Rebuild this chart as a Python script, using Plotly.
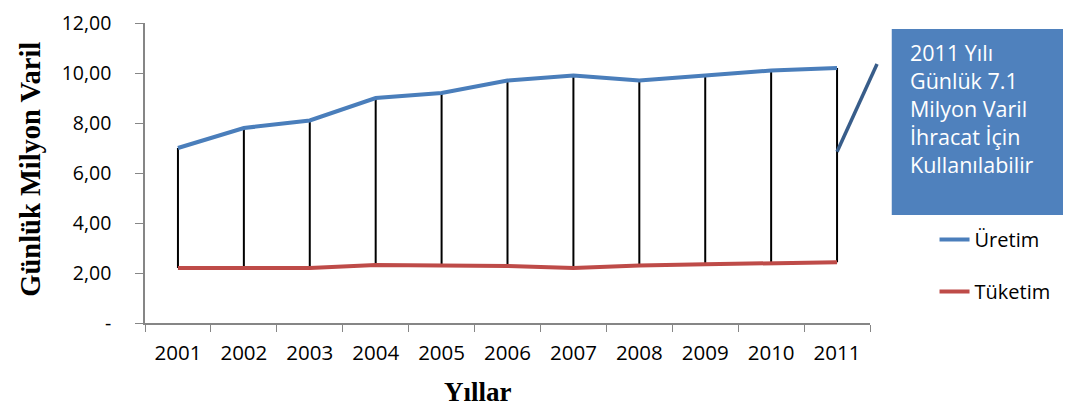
import plotly.graph_objects as go

years = ["2001", "2002", "2003", "2004", "2005", "2006", "2007", "2008", "2009", "2010", "2011"]
uretim = [7.0, 7.8, 8.1, 9.0, 9.2, 9.7, 9.9, 9.7, 9.9, 10.1, 10.2]
tuketim = [2.2, 2.2, 2.2, 2.32, 2.32, 2.28, 2.2, 2.3, 2.35, 2.4, 2.43]
y_ticks = [0, 2, 4, 6, 8, 10, 12]
y_ticktext = ["-", "2,00", "4,00", "6,00", "8,00", "10,00", "12,00"]
callout = "2011 Yılı<br>Günlük 7.1<br>Milyon Varil<br>İhracat İçin<br>Kullanılabilir"

label_font = "Open Sans, sans-serif"
title_font = "Liberation Serif, Times New Roman, serif"

# high-low lines between the two series
hl_x, hl_y = [], []
for yr, hi, lo in zip(years, uretim, tuketim):
    hl_x += [yr, yr, None]
    hl_y += [lo, hi, None]

fig = go.Figure()
fig.add_trace(go.Scatter(x=hl_x, y=hl_y, mode="lines", line=dict(color="black", width=2),
                         showlegend=False, hoverinfo="skip"))
fig.add_trace(go.Scatter(x=years, y=uretim, mode="lines", name="Üretim",
                         line=dict(color="#4A7EBB", width=4), legendgroup="a"))
fig.add_trace(go.Scatter(x=years, y=tuketim, mode="lines", name="Tüketim",
                         line=dict(color="#BE4B48", width=4), legendgroup="b"))

# plot area: top at 15px, bottom at 315px of a 400px figure
top, bottom = 15, 85
ph = 400 - top - bottom


def py(page_y):
    # page pixel (reference) -> paper y
    return (323 - page_y) / ph


n = len(years)
x_last = (n - 1 + 0.5) / n
fig.add_shape(type="line", xref="paper", yref="paper",
              x0=x_last, y0=6.85 / 12, x1=1.0097, y1=py(64),
              line=dict(color="#385D8A", width=3.5))
fig.add_shape(type="rect", xref="paper", yref="paper",
              x0=1.030, x1=1.32, y0=py(215), y1=py(29),
              fillcolor="#4F81BD", line=dict(width=0), layer="above")
fig.add_annotation(text=callout, xref="paper", yref="paper", x=1.052, y=py(109),
                   xanchor="left", yanchor="middle", align="left", showarrow=False,
                   font=dict(family=label_font, size=21.5, color="white"))
fig.add_annotation(text="<b>Yıllar</b>", xref="paper", yref="paper", x=0.459, y=py(392),
                   xanchor="center", yanchor="middle", showarrow=False,
                   font=dict(family=title_font, size=27, color="black"))
fig.add_annotation(text="<b>Günlük Milyon Varil</b>", xref="paper", yref="paper",
                   x=-0.159, y=py(169), textangle=-90, xanchor="center", yanchor="middle",
                   showarrow=False, font=dict(family=title_font, size=28.5, color="black"))

fig.update_layout(
    width=1063, height=400,
    margin=dict(l=137, r=201, t=top, b=bottom, autoexpand=False),
    plot_bgcolor="white", paper_bgcolor="white",
    legend=dict(x=1.089, y=py(220), xanchor="left", yanchor="top",
                font=dict(family=label_font, size=20, color="black"),
                traceorder="grouped", tracegroupgap=23, bgcolor="rgba(0,0,0,0)"),
    xaxis=dict(type="category", showline=True, linecolor="#868686", linewidth=1.5,
               ticks="outside", tickson="boundaries", ticklen=7, tickcolor="#868686",
               showgrid=False, tickfont=dict(family=label_font, size=20.5, color="black"),
               ticklabelstandoff=11, range=[-0.5, n - 0.5]),
    yaxis=dict(range=[0, 12], tickvals=y_ticks, ticktext=y_ticktext, showline=True,
               linecolor="#868686", linewidth=1.5, ticks="outside", ticklen=8,
               tickcolor="#868686", showgrid=False, zeroline=False,
               ticklabelstandoff=20, ticklabeloverflow="allow",
               tickfont=dict(family=label_font, size=19.5, color="black")),
)

fig.write_html("out.html")
